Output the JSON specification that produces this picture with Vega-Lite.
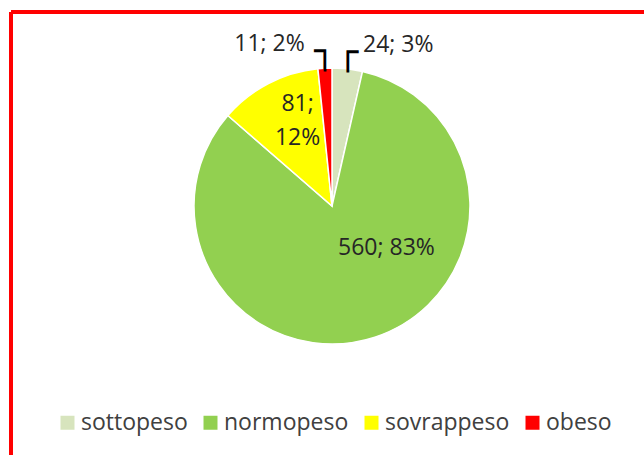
{
  "$schema": "https://vega.github.io/schema/vega-lite/v6.json",
  "autosize": {"type": "pad"},
  "padding": {"left": 9, "top": 10, "right": -11, "bottom": -2},
  "background": "white",
  "spacing": 0,
  "bounds": "flush",
  "data": {
    "values": [
      {"cat": "sottopeso", "n": 24, "label": "24; 3%", "ord": 1},
      {"cat": "normopeso", "n": 560, "label": "560; 83%", "ord": 2},
      {"cat": "sovrappeso", "n": 81, "label": "81;\n12%", "ord": 3},
      {"cat": "obeso", "n": 11, "label": "11; 2%", "ord": 4}
    ]
  },
  "vconcat": [
    {
      "width": 642,
      "height": 388,
      "view": {"stroke": "#FF0000", "strokeWidth": 4, "strokeDash": [1030, 642, 388, 0]},
      "encoding": {
        "theta": {"field": "n", "type": "quantitative", "stack": true},
        "order": {"field": "ord", "type": "quantitative", "sort": "ascending"}
      },
      "layer": [
        {
          "mark": {"type": "arc", "outerRadius": 138, "stroke": "white", "strokeWidth": 1.5},
          "encoding": {
            "color": {
              "field": "cat",
              "type": "nominal",
              "sort": ["sottopeso", "normopeso", "sovrappeso", "obeso"],
              "scale": {
                "domain": ["sottopeso", "normopeso", "sovrappeso", "obeso"],
                "range": ["#D7E4BD", "#92D050", "#FFFF00", "#FF0000"]
              },
              "legend": {
                "orient": "none",
                "legendX": 45,
                "legendY": 399,
                "direction": "horizontal",
                "title": null,
                "symbolType": "square",
                "symbolSize": 196,
                "symbolStrokeWidth": 0,
                "labelFont": "Open Sans",
                "labelFontSize": 23,
                "labelColor": "#404040",
                "columnPadding": 11,
                "labelOffset": 2,
                "labelLimit": 0
              }
            }
          }
        },
        {
          "mark": {"type": "text", "align": "left", "baseline": "middle", "dx": 13, "font": "Open Sans", "fontSize": 23, "color": "#262626"},
          "encoding": {
            "radius": {"value": 162},
            "text": {"condition": {"test": "datum.cat === 'sottopeso'", "field": "label"}, "value": ""}
          }
        },
        {
          "mark": {"type": "text", "align": "right", "baseline": "middle", "dx": -19, "font": "Open Sans", "fontSize": 23, "color": "#262626"},
          "encoding": {
            "radius": {"value": 162},
            "text": {"condition": {"test": "datum.cat === 'obeso'", "field": "label"}, "value": ""}
          }
        },
        {
          "mark": {"type": "text", "align": "center", "baseline": "middle", "dx": 8, "dy": -20, "lineBreak": "\n", "lineHeight": 34, "font": "Open Sans", "fontSize": 23, "color": "#262626"},
          "encoding": {
            "radius": {"value": 92},
            "text": {"condition": {"test": "datum.cat === 'sovrappeso'", "field": "label"}, "value": ""}
          }
        },
        {
          "mark": {"type": "text", "align": "center", "baseline": "middle", "dx": 33, "dy": -24, "font": "Open Sans", "fontSize": 23, "color": "#262626"},
          "encoding": {
            "radius": {"value": 69},
            "text": {"condition": {"test": "datum.cat === 'normopeso'", "field": "label"}, "value": ""}
          }
        },
        {
          "mark": {"type": "text", "align": "center", "baseline": "alphabetic", "font": "DejaVu Sans Mono", "fontSize": 35, "color": "#000000"},
          "encoding": {
            "radius": {"value": 142.8},
            "text": {
              "condition": [
                {"test": "datum.cat === 'obeso'", "value": "┐"},
                {"test": "datum.cat === 'sottopeso'", "value": "┌"}
              ],
              "value": ""
            }
          }
        }
      ]
    },
    {
      "width": 642,
      "height": 55,
      "view": {"stroke": "#FF0000", "strokeWidth": 4, "strokeDash": [0, 1339, 55, 0]},
      "mark": {"type": "text"},
      "encoding": {"text": {"value": ""}}
    }
  ],
  "config": {
    "font": "Open Sans"
  }
}
